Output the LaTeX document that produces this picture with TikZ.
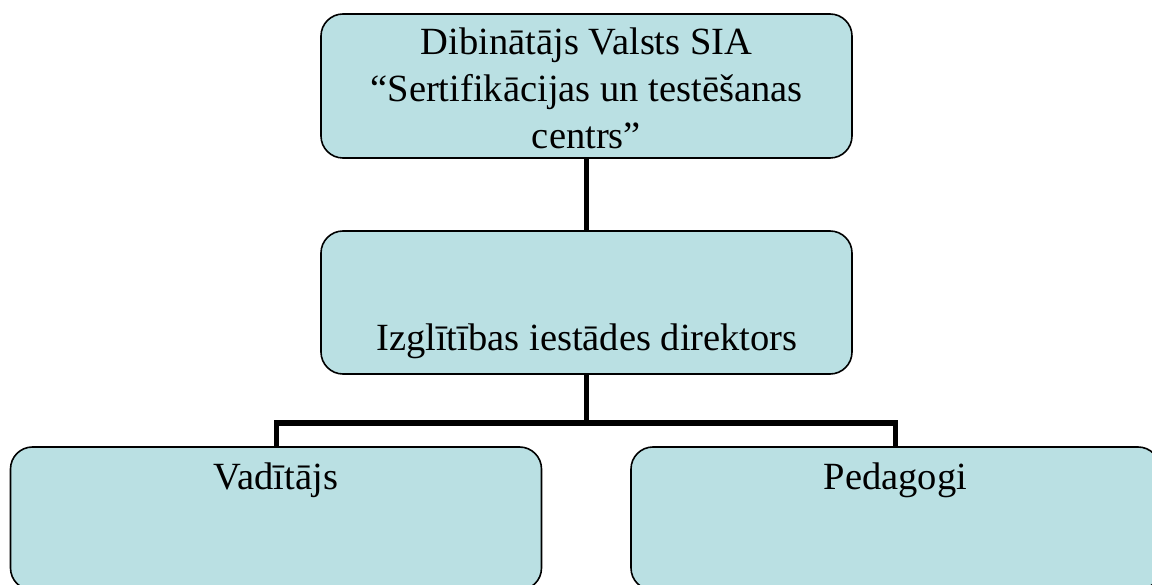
\documentclass[tikz,border=0pt]{standalone}
\usepackage{fontspec}
\setmainfont{Liberation Serif}
\definecolor{boxfill}{RGB}{186,224,227}
\begin{document}
\begin{tikzpicture}[x=1pt,y=-1pt,
  orgbox/.style={draw=black,line width=1.6pt,fill=boxfill,rounded corners=22pt,
    rectangle,minimum width=531pt,inner sep=0pt,outer sep=0pt},
  txt/.style={anchor=base,inner sep=0pt,font=\fontsize{38.5pt}{40pt}\selectfont},
  link/.style={line width=5pt,draw=black}]
\useasboundingbox (0,0) rectangle (1152,585);
\fill[white] (0,0) rectangle (1152,585);
\node[orgbox,minimum height=144pt] (top) at (586.5,86) {};
\node[orgbox,minimum height=143pt] (mid) at (586.5,302.5) {};
\node[orgbox,minimum height=143pt] (left) at (276,518.5) {};
\node[orgbox,minimum height=143pt,minimum width=529pt] (right) at (895.5,518.5) {};
\node[txt] (t1) at (586.5,55) {Dibinātājs Valsts SIA};
\node[txt] (t2) at (586.5,102) {“Sertifikācijas un testēšanas};
\node[txt] (t3) at (586.5,149) {centrs”};
\node[txt] (m1) at (587,351) {Izglītības iestādes direktors};
\node[txt] (l1) at (276,489) {Vadītājs};
\node[txt] (r1) at (895.5,489) {Pedagogi};
\coordinate (j) at (586.5,423);
\draw[link] (top.south) -- (mid.north);
\draw[link] (mid.south) -- (j);
\draw[link] (j) -| (left.north);
\draw[link] (j) -| (right.north);
\end{tikzpicture}
\end{document}
